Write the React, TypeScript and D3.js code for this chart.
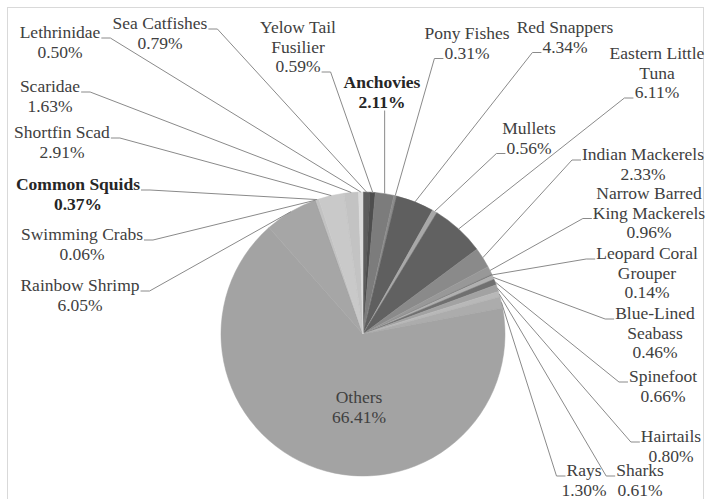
import React from 'react';
import * as d3 from 'd3';

// ---- data ----
const categories = [
  'Sea Catfishes', 'Yelow Tail Fusilier', 'Anchovies', 'Pony Fishes', 'Red Snappers', 'Mullets',
  'Eastern Little Tuna', 'Indian Mackerels', 'Narrow Barred King Mackerels', 'Leopard Coral Grouper',
  'Blue-Lined Seabass', 'Spinefoot', 'Hairtails', 'Sharks', 'Rays', 'Others', 'Rainbow Shrimp',
  'Swimming Crabs', 'Common Squids', 'Shortfin Scad', 'Scaridae', 'Lethrinidae',
];
const values = [
  0.79, 0.59, 2.11, 0.31, 4.34, 0.56, 6.11, 2.33, 0.96, 0.14, 0.46, 0.66, 0.80, 0.61, 1.30,
  66.41, 6.05, 0.06, 0.37, 2.91, 1.63, 0.50,
];
const percentLabels = [
  '0.79%', '0.59%', '2.11%', '0.31%', '4.34%', '0.56%', '6.11%', '2.33%', '0.96%', '0.14%',
  '0.46%', '0.66%', '0.80%', '0.61%', '1.30%', '66.41%', '6.05%', '0.06%', '0.37%', '2.91%',
  '1.63%', '0.50%',
];
const nameLines = [
  ['Sea Catfishes'], ['Yelow Tail', 'Fusilier'], ['Anchovies'], ['Pony Fishes'], ['Red Snappers'],
  ['Mullets'], ['Eastern Little', 'Tuna'], ['Indian Mackerels'], ['Narrow Barred', 'King Mackerels'],
  ['Leopard Coral', 'Grouper'], ['Blue-Lined', 'Seabass'], ['Spinefoot'], ['Hairtails'], ['Sharks'],
  ['Rays'], ['Others'], ['Rainbow Shrimp'], ['Swimming Crabs'], ['Common Squids'], ['Shortfin Scad'],
  ['Scaridae'], ['Lethrinidae'],
];
const boldCategories = ['Anchovies', 'Common Squids'];

// ---- styles / layout ----
const sliceColors = [
  '#5c5c5c', '#4e4e4e', '#7c7c7c', '#8c8c8c', '#5f5f5f', '#a8a8a8', '#616161', '#8a8a8a',
  '#989898', '#7a7a7a', '#b0b0b0', '#707070', '#a2a2a2', '#b8b8b8', '#acacac', '#a3a3a3',
  '#a6a6a6', '#9a9a9a', '#c2c2c2', '#c9c9c9', '#c3c3c3', '#dcdcdc',
];
// cx: text centre x, y: first-line centre y, line: anchored line, side: where the leader attaches
const labelLayout = [
  { cx: 160, y: 23, line: 0, side: 'r' },
  { cx: 298, y: 27, line: 2, side: 'r' },
  { cx: 382, y: 82, line: 1, side: 'b' },
  { cx: 467, y: 33, line: 1, side: 'l' },
  { cx: 565, y: 27, line: 1, side: 'l' },
  { cx: 529, y: 128, line: 1, side: 'l' },
  { cx: 657, y: 53, line: 2, side: 'l' },
  { cx: 643, y: 154, line: 0, side: 'l' },
  { cx: 649, y: 193, line: 1, side: 'l' },
  { cx: 647, y: 253, line: 0, side: 'l' },
  { cx: 655, y: 313, line: 0, side: 'l' },
  { cx: 663, y: 376, line: 0, side: 'l' },
  { cx: 671, y: 436, line: 0, side: 'l' },
  { cx: 640, y: 470, line: 0, side: 'l' },
  { cx: 584, y: 470, line: 0, side: 'l' },
  { cx: 359, y: 397, line: 0, side: 'none' },
  { cx: 80, y: 285, line: 0, side: 'r' },
  { cx: 82, y: 234, line: 0, side: 'r' },
  { cx: 78, y: 184, line: 0, side: 'r' },
  { cx: 62, y: 132, line: 0, side: 'r' },
  { cx: 50, y: 86, line: 0, side: 'r' },
  { cx: 60, y: 32, line: 0, side: 'r' },
];

const W = 705;
const H = 499;
const CX = 363;
const CY = 334;
const R = 142;
const FONT = 'Liberation Serif';
const FS = 17.5;
const LH = 19.5;

// Times-compatible advance widths (per 1000 em)
const REG: Record<string, number> = {
  ' ': 250, '%': 833, '-': 333, '.': 250, A: 722, B: 667, C: 667, E: 611, F: 556, G: 722, H: 722,
  I: 333, K: 722, L: 611, M: 889, N: 722, O: 722, P: 556, R: 667, S: 556, T: 611, Y: 722,
  a: 444, b: 500, c: 444, d: 500, e: 444, f: 333, g: 500, h: 500, i: 278, k: 500, l: 278,
  m: 778, n: 500, o: 500, p: 500, q: 500, r: 333, s: 389, t: 278, u: 500, v: 500, w: 722, y: 500,
};
const BOLD: Record<string, number> = {
  ' ': 250, '%': 1000, '.': 250, A: 722, C: 722, S: 556, a: 500, c: 444, d: 556, e: 444, h: 556,
  i: 278, m: 833, n: 556, o: 500, q: 556, s: 389, u: 556, v: 500,
};
function textWidth(t: string, bold: boolean): number {
  const tbl = bold ? BOLD : REG;
  let s = 0;
  for (const ch of t) s += /[0-9]/.test(ch) ? 500 : tbl[ch] ?? 500;
  return (s / 1000) * FS;
}

export default function App() {
  const pie = d3.pie<number>().sort(null).value((d) => d).startAngle(0).endAngle(2 * Math.PI);
  const arcs = pie(values);
  const arcGen = d3.arc<d3.PieArcDatum<number>>().innerRadius(0).outerRadius(R);
  const edgeArc = d3.arc<d3.PieArcDatum<number>>().innerRadius(R).outerRadius(R);

  return (
    <svg width={W} height={H} fontFamily={FONT} style={{ position: 'absolute', left: 0, top: 0 }}>
      <rect x={0} y={0} width={W} height={H} fill="#fff" />
      <rect x={7.5} y={7.5} width={696} height={500} fill="none" stroke="#d9d9d9" strokeWidth={1} />
      <g transform={`translate(${CX},${CY})`}>
        {arcs.map((a, i) => (
          <path key={categories[i]} d={arcGen(a) || ''} fill={sliceColors[i]} stroke={sliceColors[i]} strokeWidth={0.5} />
        ))}
      </g>
      {arcs.map((a, i) => {
        const lay = labelLayout[i];
        if (lay.side === 'none') return null;
        const [px0, py0] = edgeArc.centroid(a);
        const px = px0 + CX;
        const py = py0 + CY;
        const bold = boldCategories.includes(categories[i]);
        const lines = [...nameLines[i], percentLabels[i]];
        const lineY = lay.y + lay.line * LH + 6;
        let pts: [number, number][];
        if (lay.side === 'b') {
          const by = lay.y + (lines.length - 1) * LH + 9;
          pts = [[px, by], [px, py]];
        } else {
          const w = textWidth(lines[lay.line], bold);
          if (lay.side === 'r') {
            const ex = lay.cx + w / 2 + 1;
            pts = [[ex, lineY], [ex + 9, lineY], [px, py]];
          } else {
            const ex = lay.cx - w / 2 - 1;
            pts = [[ex, lineY], [ex - 9, lineY], [px, py]];
          }
        }
        return (
          <path key={'l' + i} d={d3.line()(pts) || ''} fill="none" stroke="#8a8a8a" strokeWidth={1} />
        );
      })}
      {arcs.map((a, i) => {
        const lay = labelLayout[i];
        const bold = boldCategories.includes(categories[i]);
        const lines = [...nameLines[i], percentLabels[i]];
        return lines.map((t, j) => (
          <text
            key={'t' + i + '_' + j}
            x={lay.cx}
            y={lay.y + j * LH + 6}
            textAnchor="middle"
            fontFamily={FONT}
            fontSize={FS}
            fontWeight={bold ? 700 : 400}
            fill={bold ? '#262626' : '#404040'}
          >
            {t}
          </text>
        ));
      })}
    </svg>
  );
}
